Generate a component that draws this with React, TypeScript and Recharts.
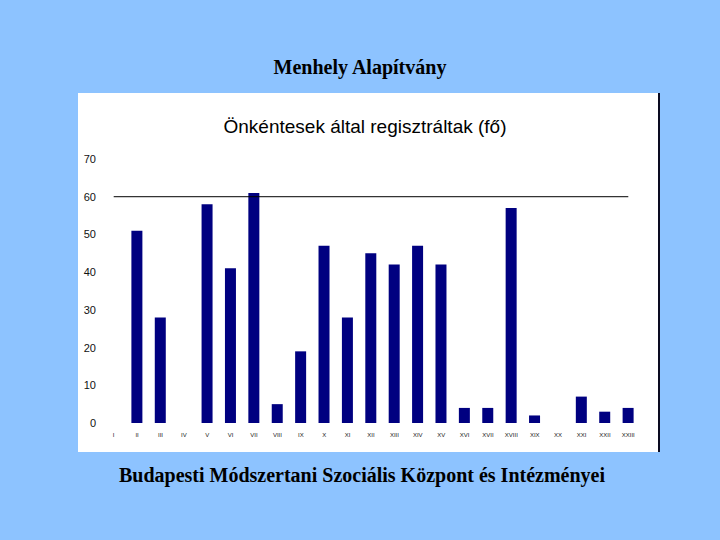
import React from "react";
import { BarChart, Bar, XAxis, YAxis, ReferenceLine } from "recharts";

const categories = ["I","II","III","IV","V","VI","VII","VIII","IX","X","XI","XII","XIII","XIV","XV","XVI","XVII","XVIII","XIX","XX","XXI","XXII","XXIII"];
const values = [0,51,28,0,58,41,61,5,19,47,28,45,42,47,42,4,4,57,2,0,7,3,4];
const yTicks = [0,10,20,30,40,50,60,70];
const refValue = 60;

const data = categories.map((c, i) => ({ name: c, value: values[i] }));

const YTick = (props: any) => {
  const { x, y, payload } = props;
  return (
    <text x={x + 2} y={y} dy={4} textAnchor="end" fontSize={11} fontFamily="Liberation Sans, Arial, sans-serif" fill="#111">
      {payload.value}
    </text>
  );
};

const XTick = (props: any) => {
  const { x, y, payload } = props;
  return (
    <text x={x} y={y} dy={6} textAnchor="middle" fontSize={6} fontFamily="Liberation Sans, Arial, sans-serif" fill="#222">
      {payload.value}
    </text>
  );
};

export default function App() {
  return (
    <div style={{ position: "absolute", left: 0, top: 0, width: 720, height: 540, background: "#8DC3FF", fontFamily: "Liberation Serif, Times New Roman, serif" }}>
      <div style={{ position: "absolute", left: 0, width: 720, top: 56, textAlign: "center", fontWeight: "bold", fontSize: 20, color: "#000" }}>
        Menhely Alapítvány
      </div>
      <div style={{ position: "absolute", left: 78, top: 93, width: 580, height: 359, background: "#fff", borderRight: "2px solid #0a0a20" }}>
        <div style={{ position: "absolute", left: 0, width: 574, top: 23, textAlign: "center", fontSize: 19, fontFamily: "Liberation Sans, Arial, sans-serif", color: "#000" }}>
          Önkéntesek által regisztráltak (fő)
        </div>
        <div style={{ position: "absolute", left: 0, top: 0 }}>
          <BarChart width={580} height={359} data={data} margin={{ top: 66, right: 18, bottom: 9, left: 0 }} barSize={11}>
            <YAxis domain={[0, 70]} ticks={yTicks} width={24} axisLine={false} tickLine={false} tick={<YTick />} interval={0} />
            <XAxis dataKey="name" height={20} axisLine={false} tickLine={false} tick={<XTick />} interval={0} />
            <ReferenceLine segment={[{ x: "I", y: refValue }, { x: "XXIII", y: refValue }]} stroke="#000" strokeWidth={1} />
            <Bar dataKey="value" fill="#000080" isAnimationActive={false} />
          </BarChart>
        </div>
      </div>
      <div style={{ position: "absolute", left: 0, width: 724, top: 464, textAlign: "center", fontWeight: "bold", fontSize: 20, color: "#000" }}>
        Budapesti Módszertani Szociális Központ és Intézményei
      </div>
    </div>
  );
}
